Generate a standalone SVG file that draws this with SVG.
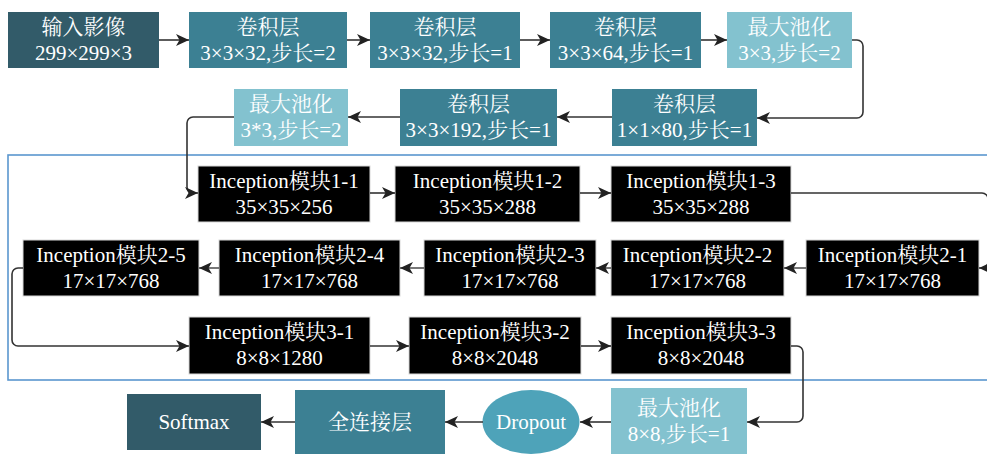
<svg xmlns="http://www.w3.org/2000/svg" width="987" height="454" viewBox="0 0 987 454">
<defs>
<style>
.t{font-family:"Liberation Serif","Noto Serif CJK SC","Noto Sans CJK SC",serif;font-size:21px;fill:#fff;text-anchor:middle}
.dk{fill:#325b69}
.md{fill:#3c8093}
.lt{fill:#83c2cf}
.inc{fill:#000;stroke:#d8d8d8;stroke-width:1}
.c{fill:none;stroke:#333;stroke-width:1.6}
.g{fill:none;stroke:#555;stroke-width:1.6}
</style>
<marker id="a" markerUnits="userSpaceOnUse" markerWidth="14" markerHeight="12" refX="13" refY="6" orient="auto">
<path d="M0,0 L13,6 L0,12 L3.5,6 z" fill="#222"/>
</marker>
</defs>
<rect x="0" y="0" width="987" height="454" fill="#fff"/>
<rect x="8" y="155" width="995" height="225" fill="none" stroke="#5b97cf" stroke-width="1.6"/>

<g id="n_input"><rect class="dk" x="8" y="12" width="151" height="56"/><text class="t" x="83.5" y="34">输入影像</text><text class="t" x="83.5" y="60">299×299×3</text></g>
<g id="n_conv1"><rect class="md" x="189" y="12" width="158" height="56"/><text class="t" x="268" y="34">卷积层</text><text class="t" x="268" y="60">3×3×32,步长=2</text></g>
<g id="n_conv2"><rect class="md" x="370" y="12" width="150" height="56"/><text class="t" x="445" y="34">卷积层</text><text class="t" x="445" y="60">3×3×32,步长=1</text></g>
<g id="n_conv3"><rect class="md" x="550" y="12" width="151" height="56"/><text class="t" x="625.5" y="34">卷积层</text><text class="t" x="625.5" y="60">3×3×64,步长=1</text></g>
<g id="n_pool1"><rect class="lt" x="727" y="12" width="125" height="56"/><text class="t" x="789.5" y="34">最大池化</text><text class="t" x="789.5" y="60">3×3,步长=2</text></g>

<g id="n_conv4"><rect class="md" x="612" y="89" width="145" height="57"/><text class="t" x="684.5" y="111">卷积层</text><text class="t" x="684.5" y="137">1×1×80,步长=1</text></g>
<g id="n_conv5"><rect class="md" x="400" y="89" width="157" height="57"/><text class="t" x="478.5" y="111">卷积层</text><text class="t" x="478.5" y="137">3×3×192,步长=1</text></g>
<g id="n_pool2"><rect class="lt" x="234" y="89" width="114" height="57"/><text class="t" x="291" y="111">最大池化</text><text class="t" x="291" y="137">3*3,步长=2</text></g>

<g id="n_i11"><rect class="inc" x="198" y="166" width="172" height="56"/><text class="t" x="284" y="188">Inception模块1-1</text><text class="t" x="284" y="214">35×35×256</text></g>
<g id="n_i12"><rect class="inc" x="395" y="166" width="185" height="56"/><text class="t" x="487.5" y="188">Inception模块1-2</text><text class="t" x="487.5" y="214">35×35×288</text></g>
<g id="n_i13"><rect class="inc" x="611" y="166" width="180" height="56"/><text class="t" x="701" y="188">Inception模块1-3</text><text class="t" x="701" y="214">35×35×288</text></g>

<g id="n_i21"><rect class="inc" x="806" y="240" width="173" height="56"/><text class="t" x="892.5" y="262">Inception模块2-1</text><text class="t" x="892.5" y="288">17×17×768</text></g>
<g id="n_i22"><rect class="inc" x="611" y="240" width="173" height="56"/><text class="t" x="697.5" y="262">Inception模块2-2</text><text class="t" x="697.5" y="288">17×17×768</text></g>
<g id="n_i23"><rect class="inc" x="424" y="240" width="172" height="56"/><text class="t" x="510" y="262">Inception模块2-3</text><text class="t" x="510" y="288">17×17×768</text></g>
<g id="n_i24"><rect class="inc" x="219" y="240" width="181" height="56"/><text class="t" x="309.5" y="262">Inception模块2-4</text><text class="t" x="309.5" y="288">17×17×768</text></g>
<g id="n_i25"><rect class="inc" x="23" y="240" width="176" height="56"/><text class="t" x="111" y="262">Inception模块2-5</text><text class="t" x="111" y="288">17×17×768</text></g>

<g id="n_i31"><rect class="inc" x="189" y="317" width="181" height="57"/><text class="t" x="279.5" y="339">Inception模块3-1</text><text class="t" x="279.5" y="365">8×8×1280</text></g>
<g id="n_i32"><rect class="inc" x="409" y="317" width="172" height="57"/><text class="t" x="495" y="339">Inception模块3-2</text><text class="t" x="495" y="365">8×8×2048</text></g>
<g id="n_i33"><rect class="inc" x="611" y="317" width="180" height="57"/><text class="t" x="701" y="339">Inception模块3-3</text><text class="t" x="701" y="365">8×8×2048</text></g>

<g id="n_pool3"><rect class="lt" x="611" y="388" width="136" height="66"/><text class="t" x="679" y="415">最大池化</text><text class="t" x="679" y="441">8×8,步长=1</text></g>
<g id="n_drop"><ellipse cx="531" cy="422" rx="48.5" ry="32" fill="#4ea3b9"/><text class="t" x="531" y="429">Dropout</text></g>
<g id="n_fc"><rect class="md" x="295" y="390" width="150" height="64"/><text class="t" x="370" y="429">全连接层</text></g>
<g id="n_soft"><rect class="dk" x="127" y="394" width="134" height="56"/><text class="t" x="194" y="429">Softmax</text></g>

<g id="connectors">
<path class="c" d="M159,40 H189" marker-end="url(#a)"/>
<path class="c" d="M347,40 H370" marker-end="url(#a)"/>
<path class="c" d="M520,40 H550" marker-end="url(#a)"/>
<path class="c" d="M701,40 H727" marker-end="url(#a)"/>
<path class="c" d="M852,40 H857 a6,6 0 0 1 6,6 V112 a6,6 0 0 1 -6,6 H757" marker-end="url(#a)"/>
<path class="c" d="M612,117 H557" marker-end="url(#a)"/>
<path class="c" d="M400,117 H348" marker-end="url(#a)"/>
<path class="c" d="M234,117 H193 a6,6 0 0 0 -6,6 V187 a6,6 0 0 0 6,6 H198" marker-end="url(#a)"/>
<path class="c" d="M370,193 H395" marker-end="url(#a)"/>
<path class="c" d="M580,193 H611" marker-end="url(#a)"/>
<path class="c" d="M791,193 H982 a6,6 0 0 1 6,6 V262 a6,6 0 0 1 -6,6 H979" marker-end="url(#a)"/>
<path class="g" d="M806,268 H784" marker-end="url(#a)"/>
<path class="g" d="M611,268 H596" marker-end="url(#a)"/>
<path class="g" d="M424,268 H400" marker-end="url(#a)"/>
<path class="g" d="M219,268 H199" marker-end="url(#a)"/>
<path class="c" d="M23,268 H18 a6,6 0 0 0 -6,6 V340 a6,6 0 0 0 6,6 H189" marker-end="url(#a)"/>
<path class="c" d="M370,346 H409" marker-end="url(#a)"/>
<path class="c" d="M581,346 H611" marker-end="url(#a)"/>
<path class="c" d="M791,346 H797 a6,6 0 0 1 6,6 V416 a6,6 0 0 1 -6,6 H747" marker-end="url(#a)"/>
<path class="c" d="M611,422 H580" marker-end="url(#a)"/>
<path class="c" d="M483,422 H445" marker-end="url(#a)"/>
<path class="c" d="M295,422 H261" marker-end="url(#a)"/>
</g>
</svg>
